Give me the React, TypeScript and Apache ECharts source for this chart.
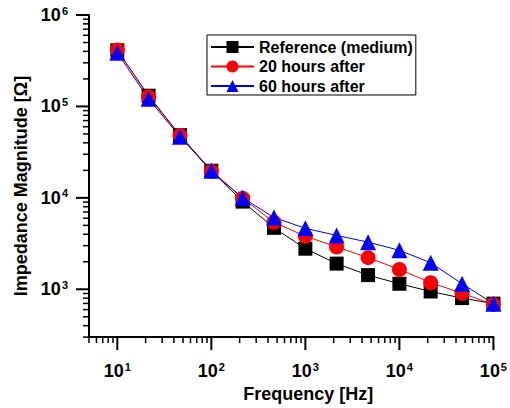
import React, { useEffect, useRef } from "react";
import * as echarts from "echarts";

const frequencies = [10, 21.5, 46.4, 100, 215, 464, 1000, 2150, 4640, 10000, 21500, 46400, 100000];
const referenceMedium = [411000, 131000, 48500, 19800, 9100, 4700, 2780, 1910, 1430, 1150, 947, 801, 697];
const after20Hours = [415000, 128000, 48000, 19500, 9900, 5400, 3810, 2900, 2220, 1650, 1180, 907, 681];
const after60Hours = [386000, 121000, 46600, 19800, 10000, 6100, 4650, 3880, 3280, 2670, 1950, 1150, 697];
const seriesNames = ["Reference (medium)", "20 hours after", "60 hours after"];

const xMin = 5;
const xMax = 100000;
const yMin = 300;
const yMax = 1000000;
const xMajorTicks = [10, 100, 1000, 10000, 100000];
const yMajorTicks = [1000, 10000, 100000, 1000000];

function minorTicks(min: number, max: number): number[] {
  const out: number[] = [];
  for (let e = -1; e < 7; e++) {
    const d = Math.pow(10, e);
    for (let m = 2; m < 10; m++) {
      const v = m * d;
      if (v >= min * 0.999 && v <= max * 1.001) out.push(v);
    }
  }
  return out;
}

const FONT = "'Liberation Sans', Arial, sans-serif";

export default function App() {
  const ref = useRef<HTMLDivElement>(null);
  useEffect(() => {
    if (!ref.current) return;
    const chart = echarts.init(ref.current, undefined, { renderer: "svg" });

    // tick marks: [x, y, major(1)/minor(0), axis(0 = x, 1 = y)]
    const tickData: number[][] = [];
    xMajorTicks.forEach((v) => tickData.push([v, yMin, 1, 0]));
    minorTicks(xMin, xMax).forEach((v) => tickData.push([v, yMin, 0, 0]));
    yMajorTicks.forEach((v) => tickData.push([xMin, v, 1, 1]));
    minorTicks(yMin, yMax).forEach((v) => tickData.push([xMin, v, 0, 1]));

    const labelFormatter = (v: number) => {
      const lg = Math.log10(v);
      const e = Math.round(lg);
      if (Math.abs(lg - e) > 1e-6) return "";
      return `{b|10}{s|${e}}`;
    };
    const rich = {
      b: { fontSize: 18, fontWeight: "bold", fontFamily: FONT, color: "#000" },
      s: { fontSize: 11, fontWeight: "bold", fontFamily: FONT, color: "#000", verticalAlign: "top", padding: [0, 0, 9, 1] },
    };

    const mk = (name: string, data: number[], color: string, symbol: string, size: number) => ({
      name,
      type: "line",
      data: frequencies.map((f, i) => [f, data[i]]),
      symbol,
      symbolSize: size,
      lineStyle: { color, width: 1 },
      itemStyle: { color },
      z: 3,
    });

    chart.setOption({
      animation: false,
      backgroundColor: "#fff",
      grid: { left: 89, right: 12, top: 15, bottom: 68 },
      legend: {
        left: 207,
        top: 35,
        orient: "vertical",
        data: seriesNames,
        borderColor: "#000",
        borderWidth: 1,
        padding: [4, 3, 1, 3],
        itemWidth: 43,
        itemHeight: 15,
        itemGap: 3.5,
        textStyle: { fontSize: 16, fontWeight: "bold", fontFamily: FONT, color: "#000", lineHeight: 16 },
      },
      xAxis: {
        type: "log",
        logBase: 10,
        min: xMin,
        max: xMax,
        name: "Frequency [Hz]",
        nameLocation: "middle",
        nameGap: 38,
        nameTextStyle: { fontSize: 18, fontWeight: "bold", fontFamily: FONT, color: "#000", padding: [0, 0, 0, 34] },
        axisLine: { lineStyle: { color: "#000", width: 2 } },
        axisTick: { show: false },
        splitLine: { show: false },
        axisLabel: { margin: 24, formatter: labelFormatter, rich, showMaxLabel: true, showMinLabel: true },
      },
      yAxis: {
        type: "log",
        logBase: 10,
        min: yMin,
        max: yMax,
        name: "Impedance Magnitude [Ω]",
        nameLocation: "middle",
        nameGap: 59,
        nameTextStyle: { fontSize: 18, fontWeight: "bold", fontFamily: FONT, color: "#000", padding: [0, 20, 0, 0] },
        axisLine: { lineStyle: { color: "#000", width: 2 } },
        axisTick: { show: false },
        splitLine: { show: false },
        axisLabel: { margin: 21, formatter: labelFormatter, rich, showMaxLabel: true, showMinLabel: true },
      },
      series: [
        {
          type: "custom",
          name: "ticks",
          silent: true,
          clip: false,
          z: 10,
          data: tickData,
          renderItem: (_params: any, api: any) => {
            const p = api.coord([api.value(0), api.value(1)]);
            const major = api.value(2) === 1;
            const len = major ? 13 : 6;
            const axis = api.value(3);
            const style = { stroke: "#000", lineWidth: major ? 2 : 1.5 };
            if (axis === 0) {
              return { type: "line", shape: { x1: p[0], y1: p[1], x2: p[0], y2: p[1] + len }, style };
            }
            return { type: "line", shape: { x1: p[0] - len, y1: p[1], x2: p[0], y2: p[1] }, style };
          },
        },
        mk(seriesNames[0], referenceMedium, "#000000", "rect", 14),
        mk(seriesNames[1], after20Hours, "#ff0000", "circle", 15),
        mk(seriesNames[2], after60Hours, "#0000ff", "triangle", 16),
      ],
    });
    return () => chart.dispose();
  }, []);
  return <div ref={ref} style={{ position: "fixed", left: 0, top: 0, width: 510, height: 408 }} />;
}
